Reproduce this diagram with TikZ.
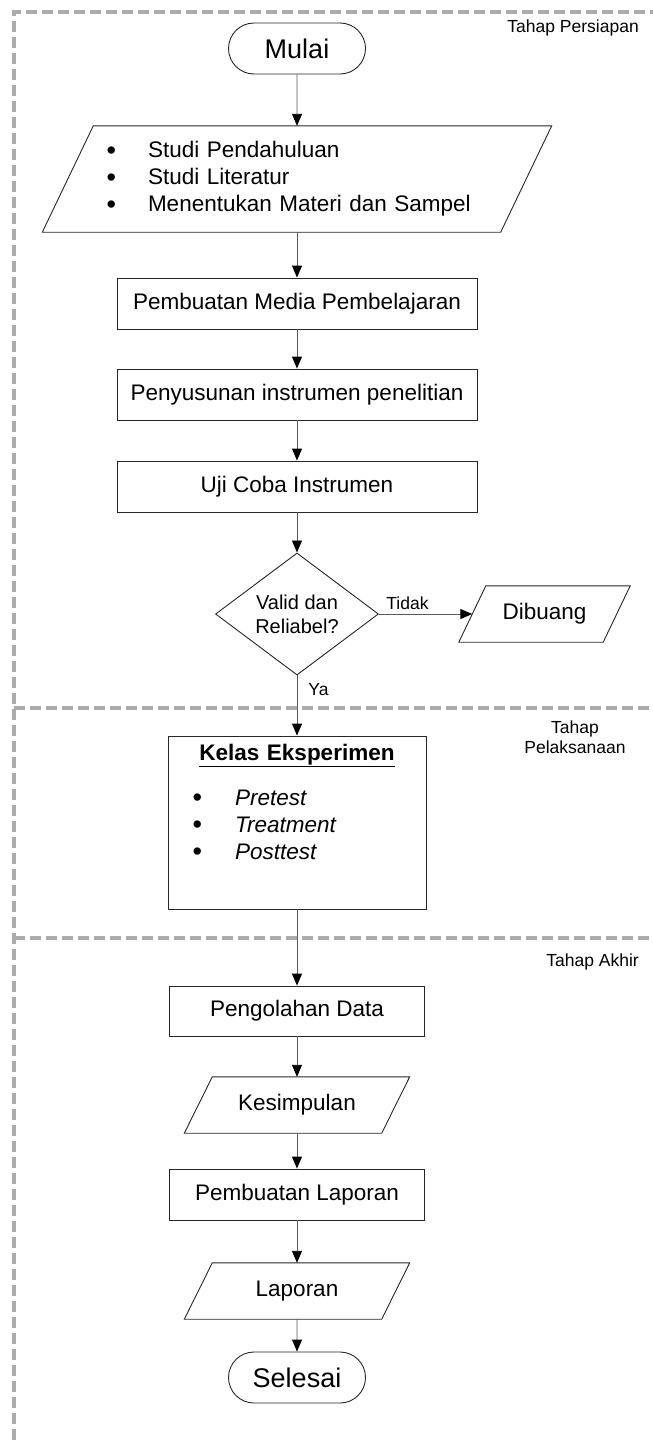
\documentclass[tikz,border=0pt]{standalone}
\usepackage{fontspec}
\setmainfont{Liberation Sans}
\usetikzlibrary{shapes.geometric,shapes.misc,arrows.meta}
\newcommand\drawpara[2]{\draw[shapeline] ([xshift=#2]#1.north west) -- ([xshift=#2]#1.north east) -- ([xshift=-#2]#1.south east) -- ([xshift=-#2]#1.south west) -- cycle;}
\newcommand\bul{\raisebox{-1.5pt}{\fontsize{27}{27}\selectfont\textbullet}}
\begin{document}
\begin{tikzpicture}[x=1pt,y=-1pt,
  shapeline/.style={draw=black!85,line width=0.9pt},
  box/.style={shapeline,rectangle,inner sep=0pt,font=\fontsize{22.5}{27}\selectfont,align=center},
  term/.style={shapeline,rounded rectangle,minimum width=137pt,minimum height=51pt,inner sep=0pt,font=\fontsize{27}{30}\selectfont},
  paranode/.style={rectangle,inner sep=0pt,font=\fontsize{22.5}{27}\selectfont},
  decision/.style={shapeline,diamond,minimum width=163pt,minimum height=122pt,inner sep=0pt,align=center,font=\fontsize{20}{24}\selectfont},
  flow/.style={draw=black!65,line width=0.9pt,-{Triangle[width=10pt,length=12pt,color=black]}},
  phase/.style={draw=black!33,line width=4pt,dash pattern=on 11pt off 5pt},
  lbl/.style={font=\fontsize{17.5}{20}\selectfont,inner sep=0pt}
]
\useasboundingbox (0,0) rectangle (653,1440);

% phase separators
\draw[phase] (14,1440) -- (14,12) -- (653,12);
\draw[phase] (14,708) -- (653,708);
\draw[phase] (14,938) -- (653,938);

\node[lbl,anchor=base east] (t1) at (639,32) {Tahap Persiapan};
\node[lbl,anchor=north,align=center] (t2) at (575,721) {Tahap\\Pelaksanaan};
\node[lbl,anchor=base east] (t3) at (639,966) {Tahap Akhir};

% nodes
\node[term] (mulai) at (297,48.5) {Mulai};
\node[paranode,minimum width=458pt,minimum height=106pt,text width=458pt,align=left] (p1) at (297,179)
 {\hspace*{38.5pt}\makebox[41.5pt][l]{\bul}Studi Pendahuluan\\
  \hspace*{38.5pt}\makebox[41.5pt][l]{\bul}Studi Literatur\\
  \hspace*{38.5pt}\makebox[41.5pt][l]{\bul}Menentukan Materi dan Sampel};
\drawpara{p1}{25.5pt}
\node[box,minimum width=360pt,minimum height=51pt] (b1) at (297,303.5) {Pembuatan Media Pembelajaran};
\node[box,minimum width=360pt,minimum height=51pt] (b2) at (297,394.5) {Penyusunan instrumen penelitian};
\node[box,minimum width=360pt,minimum height=51pt] (b3) at (297,486.5) {Uji Coba Instrumen};
\node[decision] (dec) at (297,614) {Valid dan\\Reliabel?};
\node[paranode,minimum width=144pt,minimum height=56pt] (buang) at (544.5,614) {Dibuang};
\drawpara{buang}{13.5pt}
\node[box,minimum width=258pt,minimum height=173pt,text width=258pt,align=left] (kelas) at (297,822.5)
 {\makebox[258pt]{\bfseries\underline{Kelas Eksperimen}}\\[18pt]
  \hspace*{24.5pt}\makebox[42.5pt][l]{\bul}\textit{Pretest}\\
  \hspace*{24.5pt}\makebox[42.5pt][l]{\bul}\textit{Treatment}\\
  \hspace*{24.5pt}\makebox[42.5pt][l]{\bul}\textit{Posttest}\rule[-42pt]{0pt}{42pt}};
\node[box,minimum width=255pt,minimum height=50pt] (olah) at (297,1011) {Pengolahan Data};
\node[paranode,minimum width=197pt,minimum height=56pt] (simpul) at (297,1105) {Kesimpulan};
\drawpara{simpul}{14pt}
\node[box,minimum width=255pt,minimum height=51pt] (buat) at (297,1194.5) {Pembuatan Laporan};
\node[paranode,minimum width=197pt,minimum height=56pt] (lapor) at (297,1291) {Laporan};
\drawpara{lapor}{14pt}
\node[term] (selesai) at (297,1377.5) {Selesai};

% connectors
\draw[flow] (mulai) -- (p1);
\draw[flow] (p1) -- (b1);
\draw[flow] (b1) -- (b2);
\draw[flow] (b2) -- (b3);
\draw[flow] (b3) -- (dec);
\draw[flow] (dec.east) -- node[lbl,at start,anchor=base west,xshift=7pt,yshift=5pt] {Tidak} (buang.west);
\draw[flow] (dec.south) -- node[lbl,at start,anchor=base west,xshift=11pt,yshift=-20pt] {Ya} (kelas.north);
\draw[flow] (kelas) -- (olah);
\draw[flow] (olah) -- (simpul);
\draw[flow] (simpul) -- (buat);
\draw[flow] (buat) -- (lapor);
\draw[flow] (lapor) -- (selesai);
\end{tikzpicture}
\end{document}
